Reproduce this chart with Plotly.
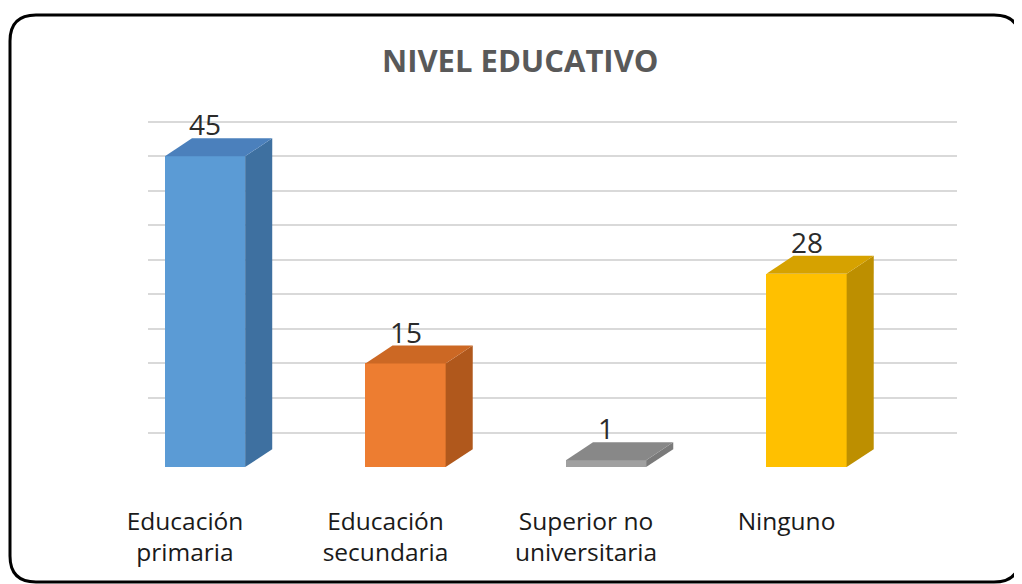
import plotly.graph_objects as go

# ---- data ----
categories = ["Educación<br>primaria", "Educación<br>secundaria",
              "Superior no<br>universitaria", "Ninguno"]
values = [45, 15, 1, 28]
grid_values = [5, 10, 15, 20, 25, 30, 35, 40, 45, 50]
title_text = "NIVEL EDUCATIVO"

# ---- styles ----
front_colors = ["#5B9BD5", "#ED7D31", "#A0A0A0", "#FFC000"]
side_colors = ["#3E70A0", "#B0581C", "#7A7A7A", "#BD8F00"]
top_colors = ["#4B80BC", "#CC6824", "#888888", "#D6A200"]

PAGE_OFF = 8  # default body margin of the html page
W, H = 1022 - PAGE_OFF, 584 - PAGE_OFF
L, R, T, B = 148 - PAGE_OFF, 65, 101 - PAGE_OFF, 110
PW, PH = W - L - R, H - T - B

BAR_OFF = 0.1     # front face centre offset from category position
BAR_W = 0.4       # front face width (axis units)
DX = 0.135        # depth, horizontal (axis units)
DY = 2.6          # depth, vertical (axis units)


def pxx(p):
    # page pixel -> paper x
    return (p - PAGE_OFF - L) / PW


def pxy(p):
    # page pixel -> paper y
    return 1 - (p - PAGE_OFF - T) / PH


fig = go.Figure()

# side and top faces
for i, v in enumerate(values):
    x0 = i + BAR_OFF - BAR_W / 2
    x1 = i + BAR_OFF + BAR_W / 2
    fig.add_trace(go.Scatter(
        x=[x1, x1 + DX, x1 + DX, x1, x1],
        y=[0, DY, v + DY, v, 0],
        fill="toself", fillcolor=side_colors[i], mode="lines",
        line=dict(width=0, color=side_colors[i]),
        hoverinfo="skip", showlegend=False))
    fig.add_trace(go.Scatter(
        x=[x0, x1, x1 + DX, x0 + DX, x0],
        y=[v, v, v + DY, v + DY, v],
        fill="toself", fillcolor=top_colors[i], mode="lines",
        line=dict(width=0, color=top_colors[i]),
        hoverinfo="skip", showlegend=False))

# front faces
fig.add_trace(go.Bar(
    x=[i + BAR_OFF for i in range(len(values))], y=values, width=BAR_W,
    marker=dict(color=front_colors, line=dict(width=0)),
    hoverinfo="skip", showlegend=False))

# data labels
for i, v in enumerate(values):
    fig.add_annotation(x=i + BAR_OFF, y=v + DY, text=str(v),
                       showarrow=False, xanchor="center", yanchor="bottom",
                       yshift=-7,
                       font=dict(family="Open Sans", size=28, color="#2B2B2B"))

# rounded border
x0b, x1b, y0b, y1b, r = 10, 1020, 15, 582, 26
path = (f"M {pxx(x0b + r)} {pxy(y0b)} L {pxx(x1b - r)} {pxy(y0b)} "
        f"Q {pxx(x1b)} {pxy(y0b)} {pxx(x1b)} {pxy(y0b + r)} "
        f"L {pxx(x1b)} {pxy(y1b - r)} "
        f"Q {pxx(x1b)} {pxy(y1b)} {pxx(x1b - r)} {pxy(y1b)} "
        f"L {pxx(x0b + r)} {pxy(y1b)} "
        f"Q {pxx(x0b)} {pxy(y1b)} {pxx(x0b)} {pxy(y1b - r)} "
        f"L {pxx(x0b)} {pxy(y0b + r)} "
        f"Q {pxx(x0b)} {pxy(y0b)} {pxx(x0b + r)} {pxy(y0b)} Z")
fig.add_shape(type="path", path=path, xref="paper", yref="paper",
              line=dict(color="#000000", width=3), layer="above")

fig.add_annotation(text=f"<b>{title_text}</b>", x=pxx(520), y=pxy(60),
                   xref="paper", yref="paper", showarrow=False,
                   xanchor="center", yanchor="middle",
                   font=dict(family="Open Sans", size=31, color="#595959"))

fig.update_layout(
    width=W, height=H,
    margin=dict(l=L, r=R, t=T, b=B, pad=0),
    paper_bgcolor="white", plot_bgcolor="white",
    bargap=0,
    xaxis=dict(range=[(148 - 185) / 200.5, (957 - 185) / 200.5],
               tickvals=list(range(len(categories))), ticktext=categories,
               showgrid=False, zeroline=False, showline=False, ticks="",
               ticklabelstandoff=30,
               tickfont=dict(family="Open Sans", size=24.5, color="#1A1A1A")),
    yaxis=dict(range=[-1, 53], tickvals=grid_values, showticklabels=False,
               showgrid=True, gridcolor="#D9D9D9", gridwidth=1.5,
               zeroline=False, showline=False, ticks=""),
)

fig.write_html("out.html")
